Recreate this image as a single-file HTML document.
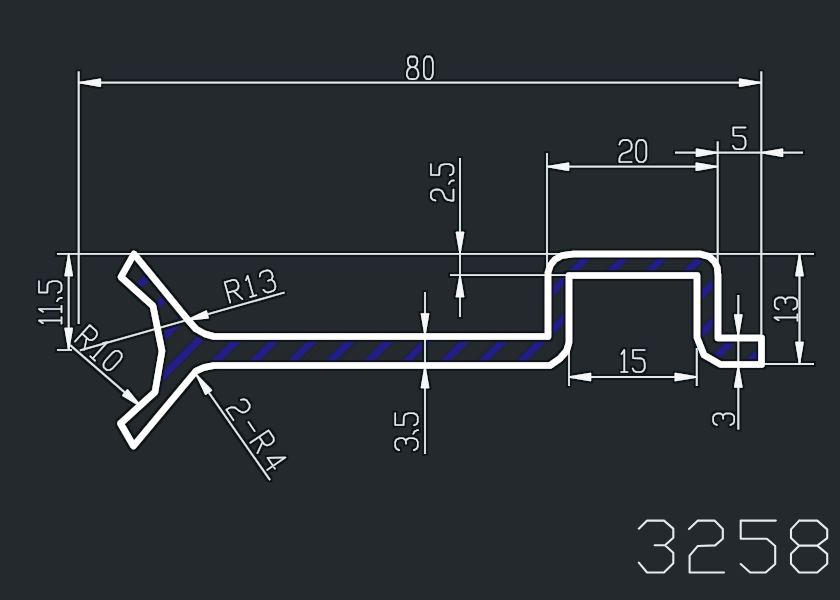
<!DOCTYPE html>
<html><head><meta charset="utf-8"><style>
html,body{margin:0;padding:0;background:#24292d;width:840px;height:600px;overflow:hidden;font-family:"Liberation Sans",sans-serif;}
svg{display:block}
</style></head><body>
<svg width="840" height="600" viewBox="0 0 840 600">
<rect width="840" height="600" fill="#24292d"/>
<defs><filter id="halo" x="-5%" y="-5%" width="110%" height="110%">
<feMorphology in="SourceAlpha" operator="dilate" radius="1.6" result="d"/>
<feGaussianBlur in="d" stdDeviation="0.6" result="db"/>
<feFlood flood-color="#111518" result="c"/>
<feComposite in="c" in2="db" operator="in" result="h"/>
<feMerge><feMergeNode in="h"/><feMergeNode in="SourceGraphic"/></feMerge>
</filter>
<filter id="hb"><feGaussianBlur stdDeviation="1.1"/></filter></defs>
<defs><clipPath id="cp"><polygon points="134,254 188,320 196,329 205,334 214,336.5 548,336.5 548,272.5 550.5,265 555,259.5 562,255.5 573.5,254 700,254 709,256.5 714.5,261.5 717.3,267.5 718,275 718,338 761.5,338 761.5,364.5 720.5,364.5 704,355 697,337.5 697,275.5 569,275.5 569,342.5 566.5,351 560,358.5 550,365.5 214,365.5 204,367.5 196,371 133.5,446 120.5,423.5 155,392 162,351 153,306 121,277"/></clipPath></defs>
<g clip-path="url(#cp)"><g filter="url(#hb)"><line x1="0" y1="195.70" x2="195.70" y2="0" stroke="#201d8c" stroke-width="7"/><line x1="0" y1="233.85" x2="233.85" y2="0" stroke="#201d8c" stroke-width="7"/><line x1="0" y1="272.00" x2="272.00" y2="0" stroke="#201d8c" stroke-width="7"/><line x1="0" y1="310.15" x2="310.15" y2="0" stroke="#201d8c" stroke-width="7"/><line x1="0" y1="348.30" x2="348.30" y2="0" stroke="#201d8c" stroke-width="7"/><line x1="0" y1="386.45" x2="386.45" y2="0" stroke="#201d8c" stroke-width="7"/><line x1="0" y1="424.60" x2="424.60" y2="0" stroke="#201d8c" stroke-width="7"/><line x1="0" y1="462.75" x2="462.75" y2="0" stroke="#201d8c" stroke-width="7"/><line x1="0" y1="500.90" x2="500.90" y2="0" stroke="#201d8c" stroke-width="7"/><line x1="0" y1="539.05" x2="539.05" y2="0" stroke="#201d8c" stroke-width="7"/><line x1="0" y1="577.20" x2="577.20" y2="0" stroke="#201d8c" stroke-width="7"/><line x1="0" y1="615.35" x2="615.35" y2="0" stroke="#201d8c" stroke-width="7"/><line x1="0" y1="653.50" x2="653.50" y2="0" stroke="#201d8c" stroke-width="7"/><line x1="0" y1="691.65" x2="691.65" y2="0" stroke="#201d8c" stroke-width="7"/><line x1="0" y1="729.80" x2="729.80" y2="0" stroke="#201d8c" stroke-width="7"/><line x1="0" y1="767.95" x2="767.95" y2="0" stroke="#201d8c" stroke-width="7"/><line x1="0" y1="806.10" x2="806.10" y2="0" stroke="#201d8c" stroke-width="7"/><line x1="0" y1="844.25" x2="844.25" y2="0" stroke="#201d8c" stroke-width="7"/><line x1="0" y1="882.40" x2="882.40" y2="0" stroke="#201d8c" stroke-width="7"/><line x1="0" y1="920.55" x2="920.55" y2="0" stroke="#201d8c" stroke-width="7"/><line x1="0" y1="958.70" x2="958.70" y2="0" stroke="#201d8c" stroke-width="7"/><line x1="0" y1="996.85" x2="996.85" y2="0" stroke="#201d8c" stroke-width="7"/><line x1="0" y1="1035.00" x2="1035.00" y2="0" stroke="#201d8c" stroke-width="7"/><line x1="0" y1="1073.15" x2="1073.15" y2="0" stroke="#201d8c" stroke-width="7"/><line x1="0" y1="1111.30" x2="1111.30" y2="0" stroke="#201d8c" stroke-width="7"/><line x1="0" y1="1149.45" x2="1149.45" y2="0" stroke="#201d8c" stroke-width="7"/><line x1="0" y1="1187.60" x2="1187.60" y2="0" stroke="#201d8c" stroke-width="7"/><line x1="0" y1="1225.75" x2="1225.75" y2="0" stroke="#201d8c" stroke-width="7"/><line x1="0" y1="1263.90" x2="1263.90" y2="0" stroke="#201d8c" stroke-width="7"/><line x1="0" y1="1302.05" x2="1302.05" y2="0" stroke="#201d8c" stroke-width="7"/></g></g>
<g filter="url(#halo)"><line x1="78.7" y1="71.5" x2="78.7" y2="324" stroke="#e2e6ea" stroke-width="1.8"/>
<line x1="761.3" y1="71.5" x2="761.3" y2="338" stroke="#e2e6ea" stroke-width="1.8"/>
<line x1="79" y1="82.7" x2="761" y2="82.7" stroke="#e2e6ea" stroke-width="1.8"/>
<polygon points="79.40,82.70 100.40,79.10 100.40,86.30" fill="#f4f6f8" stroke="#f4f6f8" stroke-width="1.3" stroke-linejoin="round"/>
<polygon points="760.60,82.70 739.60,86.30 739.60,79.10" fill="#f4f6f8" stroke="#f4f6f8" stroke-width="1.3" stroke-linejoin="round"/>
<line x1="57" y1="253.8" x2="814" y2="253.8" stroke="#e2e6ea" stroke-width="1.8"/>
<line x1="57" y1="350" x2="72" y2="350" stroke="#e2e6ea" stroke-width="1.8"/>
<line x1="68.7" y1="254" x2="68.7" y2="350" stroke="#e2e6ea" stroke-width="1.8"/>
<polygon points="68.70,254.50 72.30,275.50 65.10,275.50" fill="#f4f6f8" stroke="#f4f6f8" stroke-width="1.3" stroke-linejoin="round"/>
<polygon points="68.70,349.50 65.10,328.50 72.30,328.50" fill="#f4f6f8" stroke="#f4f6f8" stroke-width="1.3" stroke-linejoin="round"/>
<line x1="450" y1="275.2" x2="569" y2="275.2" stroke="#e2e6ea" stroke-width="1.8"/>
<line x1="460" y1="158" x2="460" y2="317" stroke="#e2e6ea" stroke-width="1.8"/>
<polygon points="460.00,253.50 456.40,232.50 463.60,232.50" fill="#f4f6f8" stroke="#f4f6f8" stroke-width="1.3" stroke-linejoin="round"/>
<polygon points="460.00,275.70 463.60,296.70 456.40,296.70" fill="#f4f6f8" stroke="#f4f6f8" stroke-width="1.3" stroke-linejoin="round"/>
<line x1="425" y1="292" x2="425" y2="454" stroke="#e2e6ea" stroke-width="1.8"/>
<polygon points="425.00,335.00 421.40,314.00 428.60,314.00" fill="#f4f6f8" stroke="#f4f6f8" stroke-width="1.3" stroke-linejoin="round"/>
<polygon points="425.00,366.50 428.60,387.50 421.40,387.50" fill="#f4f6f8" stroke="#f4f6f8" stroke-width="1.3" stroke-linejoin="round"/>
<line x1="547" y1="153" x2="547" y2="275" stroke="#e2e6ea" stroke-width="1.8"/>
<line x1="717.7" y1="141.5" x2="717.7" y2="275" stroke="#e2e6ea" stroke-width="1.8"/>
<line x1="547.5" y1="166.7" x2="717.5" y2="166.7" stroke="#e2e6ea" stroke-width="1.8"/>
<polygon points="547.50,166.70 568.50,163.10 568.50,170.30" fill="#f4f6f8" stroke="#f4f6f8" stroke-width="1.3" stroke-linejoin="round"/>
<polygon points="717.30,166.70 696.30,170.30 696.30,163.10" fill="#f4f6f8" stroke="#f4f6f8" stroke-width="1.3" stroke-linejoin="round"/>
<line x1="675" y1="152.7" x2="803" y2="152.7" stroke="#e2e6ea" stroke-width="1.8"/>
<polygon points="717.50,152.70 696.50,156.30 696.50,149.10" fill="#f4f6f8" stroke="#f4f6f8" stroke-width="1.3" stroke-linejoin="round"/>
<polygon points="761.50,152.70 782.50,149.10 782.50,156.30" fill="#f4f6f8" stroke="#f4f6f8" stroke-width="1.3" stroke-linejoin="round"/>
<line x1="761.5" y1="364" x2="814" y2="364" stroke="#e2e6ea" stroke-width="1.8"/>
<line x1="799.5" y1="254" x2="799.5" y2="364" stroke="#e2e6ea" stroke-width="1.8"/>
<polygon points="799.50,254.50 803.10,275.50 795.90,275.50" fill="#f4f6f8" stroke="#f4f6f8" stroke-width="1.3" stroke-linejoin="round"/>
<polygon points="799.50,363.50 795.90,342.50 803.10,342.50" fill="#f4f6f8" stroke="#f4f6f8" stroke-width="1.3" stroke-linejoin="round"/>
<line x1="569" y1="345" x2="569" y2="386" stroke="#e2e6ea" stroke-width="1.8"/>
<line x1="696.8" y1="348" x2="696.8" y2="386" stroke="#e2e6ea" stroke-width="1.8"/>
<line x1="569" y1="377" x2="697" y2="377" stroke="#e2e6ea" stroke-width="1.8"/>
<polygon points="569.50,377.00 590.50,373.40 590.50,380.60" fill="#f4f6f8" stroke="#f4f6f8" stroke-width="1.3" stroke-linejoin="round"/>
<polygon points="696.30,377.00 675.30,380.60 675.30,373.40" fill="#f4f6f8" stroke="#f4f6f8" stroke-width="1.3" stroke-linejoin="round"/>
<line x1="738.3" y1="295" x2="738.3" y2="429.5" stroke="#e2e6ea" stroke-width="1.8"/>
<polygon points="738.30,336.00 734.70,315.00 741.90,315.00" fill="#f4f6f8" stroke="#f4f6f8" stroke-width="1.3" stroke-linejoin="round"/>
<polygon points="738.30,366.00 741.90,387.00 734.70,387.00" fill="#f4f6f8" stroke="#f4f6f8" stroke-width="1.3" stroke-linejoin="round"/>
<line x1="80" y1="350.4" x2="284.5" y2="292.5" stroke="#e2e6ea" stroke-width="1.8"/>
<polygon points="187.00,320.20 206.22,311.00 208.18,317.92" fill="#f4f6f8" stroke="#f4f6f8" stroke-width="1.3" stroke-linejoin="round"/>
<line x1="70" y1="345" x2="141" y2="406.5" stroke="#e2e6ea" stroke-width="1.8"/>
<polygon points="141.00,406.50 122.77,395.47 127.48,390.03" fill="#f4f6f8" stroke="#f4f6f8" stroke-width="1.3" stroke-linejoin="round"/>
<line x1="196.5" y1="375" x2="270" y2="480" stroke="#e2e6ea" stroke-width="1.8"/>
<polygon points="196.50,375.00 211.49,390.14 205.59,394.27" fill="#f4f6f8" stroke="#f4f6f8" stroke-width="1.3" stroke-linejoin="round"/>
<polygon points="134,254 188,320 196,329 205,334 214,336.5 548,336.5 548,272.5 550.5,265 555,259.5 562,255.5 573.5,254 700,254 709,256.5 714.5,261.5 717.3,267.5 718,275 718,338 761.5,338 761.5,364.5 720.5,364.5 704,355 697,337.5 697,275.5 569,275.5 569,342.5 566.5,351 560,358.5 550,365.5 214,365.5 204,367.5 196,371 133.5,446 120.5,423.5 155,392 162,351 153,306 121,277" fill="none" stroke="#ffffff" stroke-width="6.5" stroke-linejoin="round"/>
<path d="M410.30,56.60 L414.90,56.60 L416.97,58.40 L417.43,61.55 L416.62,65.15 L414.33,67.17 L410.88,67.17 L408.58,65.15 L407.77,61.55 L408.23,58.40 L410.30,56.60 M410.88,67.17 L408.00,69.42 L406.85,72.80 L406.85,75.72 L408.58,78.42 L410.88,79.10 L414.33,79.10 L416.62,78.42 L418.35,75.72 L418.35,72.80 L417.20,69.42 L414.33,67.17 M426.50,56.60 L430.10,56.60 L432.08,58.85 L432.80,62.22 L432.80,73.47 L432.08,76.85 L430.10,79.10 L426.50,79.10 L424.52,76.85 L423.80,73.47 L423.80,62.22 L424.52,58.85 L426.50,56.60" fill="none" stroke="#e2e6ea" stroke-width="1.55" stroke-linejoin="round" stroke-linecap="round"/>
<path d="M619.40,144.46 L620.62,141.63 L622.82,140.10 L628.18,140.10 L630.38,141.63 L631.60,144.46 L631.60,147.95 L630.14,150.56 L626.72,152.31 L622.45,153.62 L620.01,156.45 L619.40,159.28 L619.40,161.90 L631.60,161.90 M639.16,140.10 L643.24,140.10 L645.48,142.28 L646.30,145.55 L646.30,156.45 L645.48,159.72 L643.24,161.90 L639.16,161.90 L636.92,159.72 L636.10,156.45 L636.10,145.55 L636.92,142.28 L639.16,140.10" fill="none" stroke="#e2e6ea" stroke-width="1.55" stroke-linejoin="round" stroke-linecap="round"/>
<path d="M745.50,127.53 L733.25,127.53 L733.38,135.57 L742.00,135.79 L744.50,137.31 L745.50,140.58 L745.50,145.36 L744.00,148.19 L741.75,149.28 L736.50,149.28 L734.25,148.19 L733.00,145.80" fill="none" stroke="#e2e6ea" stroke-width="1.55" stroke-linejoin="round" stroke-linecap="round"/>
<path d="M621.50,353.96 L624.30,350.00 L624.30,372.00 M621.10,372.00 L627.50,372.00 M644.70,350.00 L632.94,350.00 L633.06,358.14 L641.34,358.36 L643.74,359.90 L644.70,363.20 L644.70,368.04 L643.26,370.90 L641.10,372.00 L636.06,372.00 L633.90,370.90 L632.70,368.48" fill="none" stroke="#e2e6ea" stroke-width="1.55" stroke-linejoin="round" stroke-linecap="round"/>
<path d="M778.64,320.30 L774.50,317.50 L797.50,317.50 M797.50,320.70 L797.50,314.30 M778.80,309.50 L775.88,308.06 L774.75,305.90 L774.75,301.10 L775.88,298.94 L778.80,297.50 L782.40,297.50 L785.10,299.30 L785.55,302.90 M785.55,299.30 L788.25,297.50 L793.20,297.50 L796.12,298.94 L797.25,301.10 L797.25,305.90 L796.12,308.06 L793.20,309.50" fill="none" stroke="#e2e6ea" stroke-width="1.55" stroke-linejoin="round" stroke-linecap="round"/>
<path d="M716.98,424.95 L714.25,423.57 L713.20,421.50 L713.20,416.90 L714.25,414.83 L716.98,413.45 L720.34,413.45 L722.86,415.18 L723.28,418.62 M723.28,415.18 L725.80,413.45 L730.42,413.45 L733.15,414.83 L734.20,416.90 L734.20,421.50 L733.15,423.57 L730.42,424.95" fill="none" stroke="#e2e6ea" stroke-width="1.55" stroke-linejoin="round" stroke-linecap="round"/>
<path d="M435.45,200.60 L432.52,199.50 L430.95,197.52 L430.95,192.68 L432.52,190.70 L435.45,189.60 L439.05,189.60 L441.75,190.92 L443.55,194.00 L444.90,197.85 L447.82,200.05 L450.75,200.60 L453.45,200.60 L453.45,189.60 M448.95,183.80 L450.30,181.60 L452.32,180.50 L453.90,180.50 M430.95,164.20 L430.95,174.98 L439.27,174.87 L439.50,167.28 L441.07,165.08 L444.45,164.20 L449.40,164.20 L452.32,165.52 L453.45,167.50 L453.45,172.12 L452.32,174.10 L449.85,175.20" fill="none" stroke="#e2e6ea" stroke-width="1.55" stroke-linejoin="round" stroke-linecap="round"/>
<path d="M399.30,450.20 L396.38,448.76 L395.25,446.60 L395.25,441.80 L396.38,439.64 L399.30,438.20 L402.90,438.20 L405.60,440.00 L406.05,443.60 M406.05,440.00 L408.75,438.20 L413.70,438.20 L416.62,439.64 L417.75,441.80 L417.75,446.60 L416.62,448.76 L413.70,450.20 M413.25,433.90 L414.60,431.50 L416.62,430.30 L418.20,430.30 M395.25,413.30 L395.25,425.06 L403.57,424.94 L403.80,416.66 L405.38,414.26 L408.75,413.30 L413.70,413.30 L416.62,414.74 L417.75,416.90 L417.75,421.94 L416.62,424.10 L414.15,425.30" fill="none" stroke="#e2e6ea" stroke-width="1.55" stroke-linejoin="round" stroke-linecap="round"/>
<path d="M43.05,323.30 L39.00,320.50 L61.50,320.50 M61.50,323.70 L61.50,317.30 M43.05,311.80 L39.00,309.00 L61.50,309.00 M61.50,312.20 L61.50,305.80 M57.00,301.30 L58.35,299.00 L60.38,297.85 L61.95,297.85 M39.00,281.25 L39.00,292.52 L47.33,292.40 L47.55,284.47 L49.12,282.17 L52.50,281.25 L57.45,281.25 L60.38,282.63 L61.50,284.70 L61.50,289.53 L60.38,291.60 L57.90,292.75" fill="none" stroke="#e2e6ea" stroke-width="1.55" stroke-linejoin="round" stroke-linecap="round"/>
<path d="M230.28,302.49 L224.67,282.25 L233.34,279.85 L236.15,280.60 L237.84,282.96 L238.51,285.39 L238.28,288.29 L236.26,290.37 L227.59,292.77 M233.61,291.10 L242.33,299.15 M246.01,280.27 L247.69,275.88 L253.31,296.12 M250.22,296.97 L256.39,295.26 M259.74,276.44 L260.44,273.35 L262.32,271.71 L267.14,270.37 L269.59,270.81 L271.78,273.10 L272.70,276.41 L271.59,279.40 L268.09,280.82 M271.70,279.82 L274.20,281.80 L275.46,286.36 L274.76,289.45 L272.88,291.09 L268.06,292.43 L265.61,291.99 L263.42,289.70" fill="none" stroke="#e2e6ea" stroke-width="1.55" stroke-linejoin="round" stroke-linecap="round"/>
<path d="M74.99,341.49 L89.72,325.14 L96.40,331.17 L97.23,333.98 L96.06,336.78 L94.29,338.74 L91.64,340.20 L88.75,339.67 L82.06,333.64 M86.71,337.83 L84.28,349.86 M102.63,343.19 L107.36,342.13 L92.64,358.47 M90.26,356.33 L95.02,360.62 M118.40,350.92 L121.52,353.73 L121.77,356.91 L120.18,359.93 L112.82,368.10 L109.99,369.99 L106.80,370.08 L103.68,367.27 L103.43,364.09 L105.02,361.07 L112.38,352.90 L115.21,351.01 L118.40,350.92" fill="none" stroke="#e2e6ea" stroke-width="1.55" stroke-linejoin="round" stroke-linecap="round"/>
<path d="M240.91,399.81 L243.98,399.23 L246.52,400.22 L249.63,404.75 L249.63,407.48 L247.98,410.13 L245.07,412.12 L242.05,412.37 L238.62,410.48 L235.06,407.61 L231.28,407.17 L228.57,408.27 L226.39,409.76 L233.45,420.07 M248.54,422.17 L254.64,431.08 M250.39,442.76 L268.55,430.33 L273.63,437.75 L273.77,440.69 L271.98,443.13 L269.80,444.62 L266.87,445.41 L264.19,444.22 L259.11,436.79 M262.64,441.95 L257.45,453.07 M267.26,469.90 L285.41,457.47 L267.56,457.87 L274.90,468.60" fill="none" stroke="#e2e6ea" stroke-width="1.55" stroke-linejoin="round" stroke-linecap="round"/></g>
<path d="M638.80,528.64 L647.08,520.60 L663.98,520.60 L673.30,528.64 L673.30,537.73 L665.02,545.25 L654.67,545.25 M665.02,545.25 L673.30,552.78 L673.30,563.16 L663.98,572.50 L647.08,572.50 L638.80,562.64 M689.00,529.06 L697.89,520.60 L714.51,520.60 L722.81,529.06 L722.81,538.71 L715.11,545.36 L697.89,545.93 L689.60,555.58 L689.60,572.50 L724.00,572.50 M775.80,520.60 L740.70,520.60 L740.70,538.71 L766.88,538.71 L775.20,545.93 L775.20,564.04 L765.69,572.50 L750.21,572.50 L740.70,564.04 M799.17,520.60 L817.28,520.60 L827.21,529.37 L827.21,538.09 L817.28,545.67 L799.17,545.67 L791.00,538.09 L791.00,529.37 L799.17,520.60 M799.17,545.67 L791.00,553.82 L791.00,563.73 L799.17,572.50 L817.28,572.50 L827.21,563.73 L827.21,553.82 L817.28,545.67" fill="none" stroke="#e8eaec" stroke-width="2.1" stroke-linejoin="round" stroke-linecap="round"/>
</svg>
</body></html>
